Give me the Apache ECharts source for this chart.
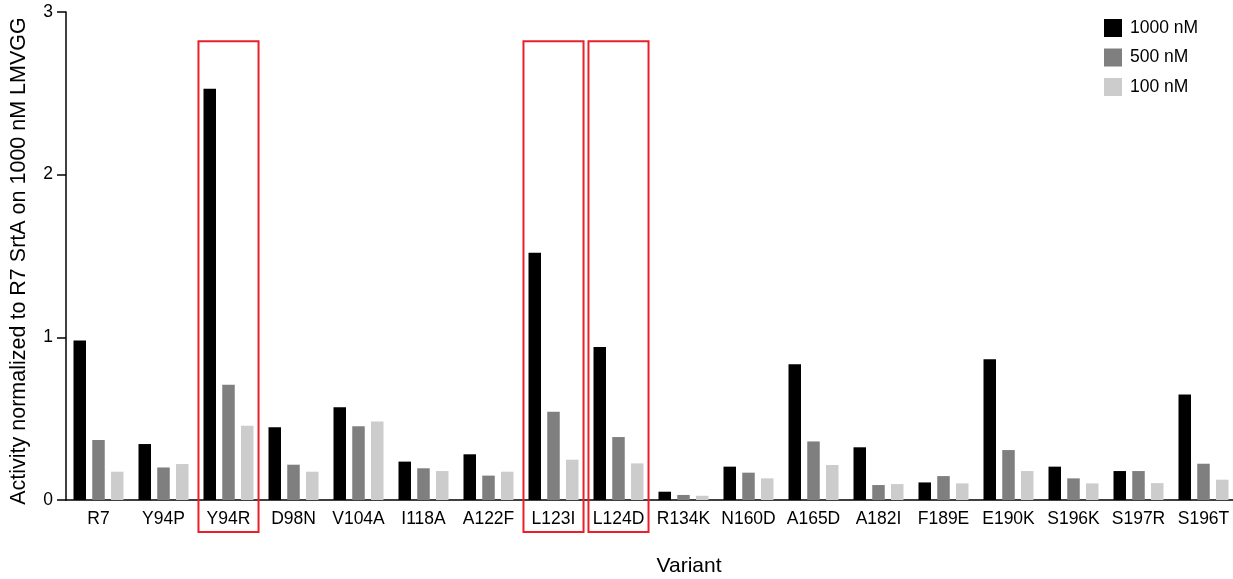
<!DOCTYPE html>
<html>
<head>
<meta charset="utf-8">
<script src="https://cdn.jsdelivr.net/npm/echarts@6/dist/echarts.min.js"></script>
<style>
html,body{margin:0;padding:0;background:#fff;}
#c{width:1233px;height:579px;}
</style>
</head>
<body>
<div id="c"></div>
<script>
const categories = ['R7','Y94P','Y94R','D98N','V104A','I118A','A122F','L123I','L124D','R134K','N160D','A165D','A182I','F189E','E190K','S196K','S197R','S196T'];
const series1000 = [0.98,0.344,2.528,0.447,0.570,0.236,0.281,1.52,0.941,0.051,0.205,0.834,0.324,0.108,0.865,0.205,0.178,0.649];
const series500  = [0.369,0.200,0.709,0.217,0.453,0.195,0.150,0.543,0.387,0.031,0.168,0.360,0.092,0.147,0.307,0.133,0.178,0.223];
const series100  = [0.174,0.221,0.457,0.174,0.482,0.178,0.174,0.248,0.225,0.026,0.133,0.215,0.098,0.102,0.178,0.102,0.104,0.125];
const yTicks = [0,1,2,3];
const highlighted = ['Y94R','L123I','L124D'];
const highlightTop = 2.82;

const font = 'Liberation Sans, Arial, sans-serif';
const chart = echarts.init(document.getElementById('c'), null, {renderer:'canvas'});
const option = {
  animation:false,
  backgroundColor:'#fff',
  textStyle:{fontFamily:font},
  grid:{left:66,right:-3,top:12,bottom:79,containLabel:false,outerBoundsMode:'none'},
  legend:{
    orient:'vertical', left:1104, top:19, padding:0,
    itemWidth:18, itemHeight:18, itemGap:11.5,
    icon:'rect',
    textStyle:{fontFamily:font,fontSize:17.5,color:'#000',padding:[0,0,0,3]},
    data:['1000 nM','500 nM','100 nM']
  },
  xAxis:{
    type:'category', data:categories,
    name:'Variant', nameLocation:'middle', nameGap:56,
    nameTextStyle:{fontFamily:font,fontSize:21,color:'#000',padding:[0,0,0,76]},
    axisLine:{lineStyle:{color:'#000',width:1.5}},
    axisTick:{alignWithLabel:true,length:7,lineStyle:{color:'#000',width:1.5}},
    axisLabel:{fontFamily:font,fontSize:17.5,color:'#000',margin:10,interval:0}
  },
  yAxis:{
    type:'value', min:yTicks[0], max:yTicks[yTicks.length-1], interval:1,
    name:'Activity normalized to R7 SrtA on 1000 nM LMVGG', nameLocation:'middle', nameGap:36,
    nameTextStyle:{fontFamily:font,fontSize:21.5,color:'#000',padding:[0,10,0,0]},
    axisLine:{show:true,lineStyle:{color:'#000',width:1.5}},
    axisTick:{show:true,length:9,lineStyle:{color:'#000',width:1.5}},
    axisLabel:{fontFamily:font,fontSize:17.5,color:'#000',margin:13},
    splitLine:{show:false}
  },
  series:[
    {name:'1000 nM',type:'bar',data:series1000,barWidth:12.5,barGap:'50%',itemStyle:{color:'#000000'}},
    {name:'500 nM',type:'bar',data:series500,barWidth:12.5,barGap:'50%',itemStyle:{color:'#7f7f7f'}},
    {name:'100 nM',type:'bar',data:series100,barWidth:12.5,barGap:'50%',itemStyle:{color:'#cccccc'}}
  ]
};
chart.setOption(option);

const p0 = chart.convertToPixel({xAxisIndex:0,yAxisIndex:0},[categories[0],0]);
const p1 = chart.convertToPixel({xAxisIndex:0,yAxisIndex:0},[categories[1],0]);
const band = p1[0]-p0[0];
const base = p0[1];
const rects = highlighted.map(cat=>{
  const p = chart.convertToPixel({xAxisIndex:0,yAxisIndex:0},[cat,highlightTop]);
  const half = band*0.462;
  return {
    type:'rect', z:100,
    shape:{x:p[0]-half,y:p[1],width:half*2,height:(base+32)-p[1]},
    style:{fill:'none',stroke:'#e8202a',lineWidth:2}
  };
});
chart.setOption({graphic:rects});
</script>
</body>
</html>
